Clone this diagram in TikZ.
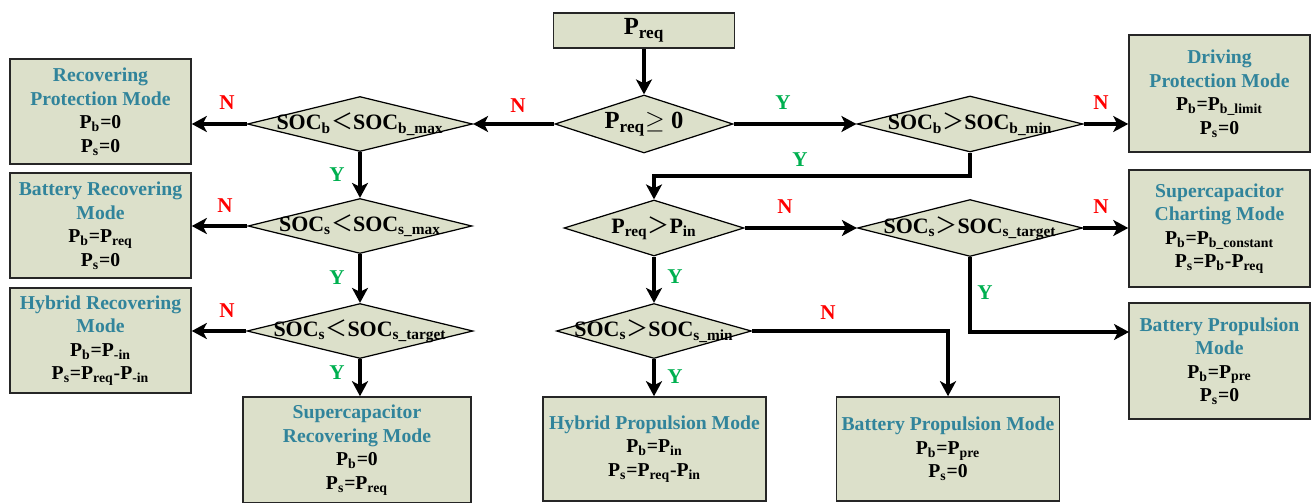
\documentclass[tikz,border=0pt]{standalone}
\usepackage{fontspec}
\setmainfont{Liberation Serif}
\newfontfamily\cjk{Noto Sans CJK SC}
\usetikzlibrary{shapes.geometric,arrows.meta,positioning}
\definecolor{modefill}{HTML}{DCE0CA}
\definecolor{modetitle}{HTML}{31849B}
\definecolor{yesgreen}{HTML}{00B050}
\definecolor{nored}{HTML}{FF0000}
\newcommand{\sbx}[1]{\textsubscript{#1}}
\newcommand{\ttl}[1]{\textcolor{modetitle}{#1}}
\newcommand{\lessw}{{\cjk\mdseries ＜}}
\newcommand{\morew}{{\cjk\mdseries ＞}}
\newcommand{\modefont}{\fontsize{11.2}{13.4}\selectfont\bfseries}
\newcommand{\condfont}{\fontsize{12.5}{14}\selectfont\bfseries}
\newcommand{\tagfont}{\fontsize{12}{12}\selectfont\bfseries}

\begin{document}
\begin{tikzpicture}[x=0.02cm, y=-0.02cm,
  mode/.style={rectangle, draw=black!85, line width=0.9pt, fill=modefill, align=center, inner sep=1pt, font=\modefont},
  cond/.style={diamond, draw=black, line width=0.7pt, fill=modefill, inner sep=0pt, font=\condfont},
  arr/.style={-{Stealth[length=3mm,width=3.2mm,inset=0.8mm]}, line width=2pt},
  yes/.style={text=yesgreen, font=\tagfont},
  no/.style={text=nored, font=\tagfont}
]
  \useasboundingbox (0,0) rectangle (1311,503);

  % start and first decision
  \node[mode, minimum width=3.62cm, minimum height=0.7cm, font=\fontsize{14}{16}\selectfont\bfseries] (req) at (644,30.5) {P\sbx{req}};
  \node[cond, minimum width=3.56cm, minimum height=1.16cm, font=\fontsize{14}{16}\selectfont\bfseries] (c0) at (644,124) {\makebox[0pt]{P\sbx{req}$\geq$ 0}};

  % recovering branch
  \node[cond, minimum width=4.5cm, minimum height=1.1cm] (c1) at (360,124) {\makebox[0pt]{SOC\sbx{b}\lessw SOC\sbx{b\_max}}};
  \node[cond, minimum width=4.48cm, minimum height=1.1cm] (c2) at (360,226) {\makebox[0pt]{SOC\sbx{s}\lessw SOC\sbx{s\_max}}};
  \node[cond, minimum width=4.52cm, minimum height=1.1cm] (c3) at (360,331) {\makebox[0pt]{SOC\sbx{s}\lessw SOC\sbx{s\_target}}};

  \node[mode, minimum width=3.62cm, minimum height=2.1cm] (recprot) at (100.5,111.5) {\ttl{Recovering}\\\ttl{Protection Mode}\\P\sbx{b}=0\\P\sbx{s}=0};
  \node[mode, minimum width=3.62cm, minimum height=2.1cm] (batrec) at (100.5,225.5) {\ttl{Battery Recovering}\\\ttl{Mode}\\P\sbx{b}=P\sbx{req}\\P\sbx{s}=0};
  \node[mode, minimum width=3.62cm, minimum height=2.1cm] (hybrec) at (100.5,340.5) {\ttl{Hybrid Recovering}\\\ttl{Mode}\\P\sbx{b}=P\sbx{-in}\\P\sbx{s}=P\sbx{req}-P\sbx{-in}};
  \node[mode, minimum width=4.56cm, minimum height=2.12cm] (screc) at (357,450) {\ttl{Supercapacitor}\\\ttl{Recovering Mode}\\P\sbx{b}=0\\P\sbx{s}=P\sbx{req}};

  % driving branch
  \node[cond, minimum width=4.52cm, minimum height=1.12cm] (c4) at (970,124) {\makebox[0pt]{SOC\sbx{b}\morew SOC\sbx{b\_min}}};
  \node[cond, minimum width=3.6cm, minimum height=1.12cm] (c5) at (654,228) {\makebox[0pt]{P\sbx{req}\morew P\sbx{in}}};
  \node[cond, minimum width=4.5cm, minimum height=1.14cm] (c6) at (970,228) {\makebox[0pt]{SOC\sbx{s}\morew SOC\sbx{s\_target}}};
  \node[cond, minimum width=3.9cm, minimum height=1.1cm] (c7) at (654,331) {\makebox[0pt]{SOC\sbx{s}\morew SOC\sbx{s\_min}}};

  \node[mode, minimum width=3.62cm, minimum height=2.34cm] (drvprot) at (1219.5,93.5) {\ttl{Driving}\\\ttl{Protection Mode}\\P\sbx{b}=P\sbx{b\_limit}\\P\sbx{s}=0};
  \node[mode, minimum width=3.62cm, minimum height=2.34cm] (scchg) at (1219.5,228.5) {\ttl{Supercapacitor}\\\ttl{Charting Mode}\\P\sbx{b}=P\sbx{b\_constant}\\P\sbx{s}=P\sbx{b}-P\sbx{req}};
  \node[mode, minimum width=3.62cm, minimum height=2.32cm] (batprop) at (1219.5,361) {\ttl{Battery Propulsion}\\\ttl{Mode}\\P\sbx{b}=P\sbx{pre}\\P\sbx{s}=0};
  \node[mode, minimum width=4.46cm, minimum height=2.08cm] (hybprop) at (654.5,449) {\ttl{Hybrid Propulsion Mode}\\P\sbx{b}=P\sbx{in}\\P\sbx{s}=P\sbx{req}-P\sbx{in}};
  \node[mode, minimum width=4.46cm, minimum height=2.08cm] (batprop2) at (948,449) {\ttl{Battery Propulsion Mode}\\P\sbx{b}=P\sbx{pre}\\P\sbx{s}=0};

  % bends
  \coordinate (k1) at (970,176);
  \coordinate (k2) at (1129,332);

  % connectors
  \draw[arr] (req) -- (c0);
  \draw[arr] (c0.west) -- (c1.east);
  \draw[arr] (c0.east) -- (c4.west);
  \draw[arr] (c1.west) -- (c1.west -| recprot.east);
  \draw[arr] (c1.south) -- (c2.north);
  \draw[arr] (c2.west) -- (c2.west -| batrec.east);
  \draw[arr] (c2.south) -- (c3.north);
  \draw[arr] (c3.west) -- (c3.west -| hybrec.east);
  \draw[arr] (c3.south) -- (c3.south |- screc.north);
  \draw[arr] (c4.east) -- (c4.east -| drvprot.west);
  \draw[arr] (c4.south) -- (k1) -| (c5.north);
  \draw[arr] (c5.east) -- (c6.west);
  \draw[arr] (c5.south) -- (c7.north);
  \draw[arr] (c6.east) -- (c6.east -| scchg.west);
  \draw[arr] (c6.south) |- (k2);
  \draw[arr] (c7.east) -| (batprop2.north);
  \draw[arr] (c7.south) -- (c7.south |- hybprop.north);

  % Y / N tags
  \node[no] (n0) at (518,106) {N};
  \node[yes] (y0) at (783,103) {Y};
  \node[no] (n1) at (227,103) {N};
  \node[yes] (y1) at (337,175) {Y};
  \node[no] (n2) at (225,206) {N};
  \node[yes] (y2) at (337,278) {Y};
  \node[no] (n3) at (227,311) {N};
  \node[yes] (y3) at (337,373) {Y};
  \node[no] (n4) at (1101,103) {N};
  \node[yes] (y4) at (800,160) {Y};
  \node[no] (n5) at (785,207) {N};
  \node[yes] (y5) at (675,277) {Y};
  \node[no] (n6) at (1101,207) {N};
  \node[yes] (y6) at (985,293) {Y};
  \node[no] (n7) at (828,313) {N};
  \node[yes] (y7) at (675,377) {Y};
\end{tikzpicture}
\end{document}
